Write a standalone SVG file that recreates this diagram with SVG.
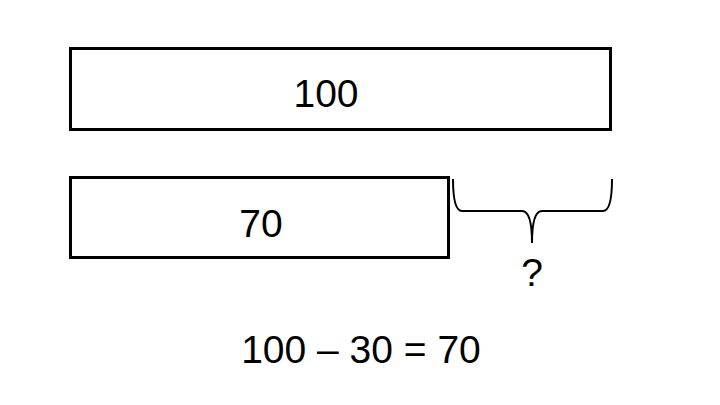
<svg xmlns="http://www.w3.org/2000/svg" width="720" height="405" viewBox="0 0 720 405">
<style>
.box{fill:#fff;stroke:#000;stroke-width:3}
.t{font-family:"Liberation Sans",Arial,sans-serif;font-size:39px;fill:#000;text-anchor:middle}
.br{fill:none;stroke:#000;stroke-width:2}
</style>
<rect width="720" height="405" fill="#fff"/>
<g id="bar100">
<rect class="box" x="70.5" y="48.5" width="540" height="81"/>
<text class="t" x="326" y="107">100</text>
</g>
<g id="bar70">
<rect class="box" x="70.5" y="177.5" width="378" height="80"/>
<text class="t" x="261" y="237">70</text>
</g>
<g id="connectors">
<path class="br" d="M453,179 Q453,211 462,211 L522,211 Q532,211 532,243 Q532,211 542,211 L603,211 Q612,211 612,179"/>
</g>
<g id="question">
<text class="t" x="532" y="286">?</text>
</g>
<g id="equation">
<text class="t" x="361" y="363">100 – 30 = 70</text>
</g>
</svg>
